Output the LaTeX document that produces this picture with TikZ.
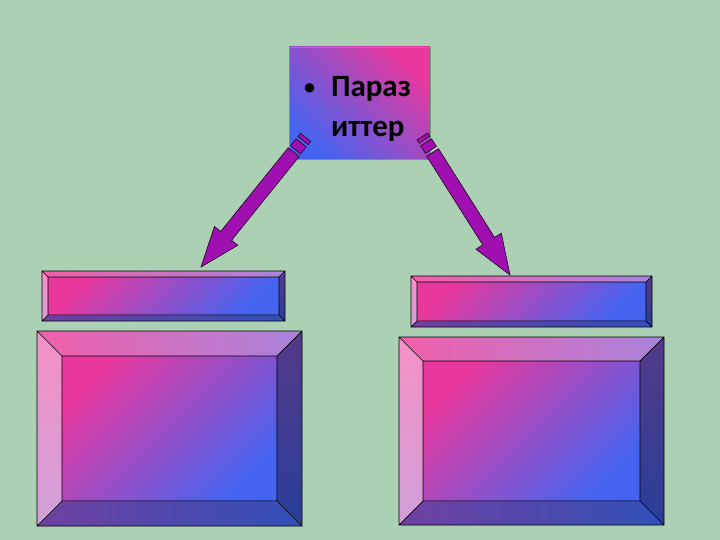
\documentclass[tikz,border=0pt]{standalone}
\usepackage{fontspec}
\setmainfont{Carlito}
\usetikzlibrary{calc}

\definecolor{slidebg}{RGB}{172,208,180}
\definecolor{facepink}{RGB}{232,56,158}
\definecolor{faceblue}{RGB}{68,100,240}
\definecolor{toppink}{RGB}{242,95,170}
\definecolor{toplilac}{RGB}{168,132,220}
\definecolor{leftpink}{RGB}{245,144,197}
\definecolor{leftlilac}{RGB}{208,160,218}
\definecolor{rightdark}{RGB}{85,58,138}
\definecolor{rightblue}{RGB}{40,62,152}
\definecolor{botpurple}{RGB}{112,64,160}
\definecolor{botblue}{RGB}{48,80,184}
\definecolor{arrowpurple}{RGB}{160,16,176}
\definecolor{boxgreen}{RGB}{80,176,96}

\tikzset{
  bevel top/.style={left color=toppink,right color=toplilac},
  bevel left/.style={top color=leftpink,bottom color=leftlilac},
  bevel right/.style={top color=rightdark,bottom color=rightblue},
  bevel bottom/.style={left color=botpurple,right color=botblue},
  bevel face/.style={top color=facepink,bottom color=faceblue,shading angle=45},
  bevel edge/.style={draw=black,line width=0.7pt},
  arrowpart/.style={fill=arrowpurple,draw=black!80!arrowpurple,line width=0.6pt,line join=miter}
}

% рамка с фаской: имя, левый верхний угол, правый нижний угол, ширина фаски
\newcommand{\bevelbox}[4]{%
  \path #2 coordinate (#1-nw) #3 coordinate (#1-se);
  \coordinate (#1-ne) at (#1-se |- #1-nw);
  \coordinate (#1-sw) at (#1-nw |- #1-se);
  \coordinate (#1-inw) at ([xshift=#4,yshift=-#4]#1-nw);
  \coordinate (#1-ine) at ([xshift=-#4,yshift=-#4]#1-ne);
  \coordinate (#1-ise) at ([xshift=-#4,yshift=#4]#1-se);
  \coordinate (#1-isw) at ([xshift=#4,yshift=#4]#1-sw);
  \shade[bevel top] (#1-nw) -- (#1-ne) -- (#1-ine) -- (#1-inw) -- cycle;
  \shade[bevel left] (#1-nw) -- (#1-inw) -- (#1-isw) -- (#1-sw) -- cycle;
  \shade[bevel right] (#1-ne) -- (#1-se) -- (#1-ise) -- (#1-ine) -- cycle;
  \shade[bevel bottom] (#1-sw) -- (#1-isw) -- (#1-ise) -- (#1-se) -- cycle;
  \shade[bevel face] (#1-inw) rectangle (#1-ise);
  \draw[bevel edge] (#1-nw) rectangle (#1-se) (#1-inw) rectangle (#1-ise)
    (#1-nw) -- (#1-inw) (#1-ne) -- (#1-ine) (#1-se) -- (#1-ise) (#1-sw) -- (#1-isw);
}

% полосатая стрелка: хвост, остриё
\newcommand{\stripedarrow}[2]{%
  \filldraw[arrowpart] ($(#1)!0pt!(#2)!6.5pt!90:(#2)$) -- ($(#1)!4pt!(#2)!6.5pt!90:(#2)$)
    -- ($(#1)!4pt!(#2)!6.5pt!-90:(#2)$) -- ($(#1)!0pt!(#2)!6.5pt!-90:(#2)$) -- cycle;
  \filldraw[arrowpart] ($(#1)!7pt!(#2)!6.5pt!90:(#2)$) -- ($(#1)!16pt!(#2)!6.5pt!90:(#2)$)
    -- ($(#1)!16pt!(#2)!6.5pt!-90:(#2)$) -- ($(#1)!7pt!(#2)!6.5pt!-90:(#2)$) -- cycle;
  \filldraw[arrowpart] ($(#1)!19pt!(#2)!7pt!90:(#2)$) -- ($(#2)!40pt!(#1)!7pt!-90:(#1)$)
    -- ($(#2)!40pt!(#1)!15pt!-90:(#1)$) -- (#2) -- ($(#2)!40pt!(#1)!15pt!90:(#1)$)
    -- ($(#2)!40pt!(#1)!7pt!90:(#1)$) -- ($(#1)!19pt!(#2)!7pt!-90:(#2)$) -- cycle;
}

\begin{document}
\begin{tikzpicture}[x=1pt,y=-1pt]
  % фон слайда
  \fill[slidebg] (0,0) rectangle (720,540);

  % верхний блок
  \node[shade,top color=facepink,bottom color=faceblue,shading angle=-45,
        draw=boxgreen,line width=0.8pt,minimum width=141pt,minimum height=112pt,inner sep=0pt]
    (parazit) at (359.5,103) {};
  \node[align=left,inner sep=0pt,text=black,font=\fontsize{31}{40}\selectfont\bfseries]
    (parazittext) at ([xshift=-2pt,yshift=-6pt]parazit.center)
    {\makebox[27pt][l]{\raisebox{2.5pt}{\fontsize{22}{22}\selectfont\textbullet}}Параз\\\hspace{27pt}иттер};

  % нижние рамки
  \bevelbox{smallL}{(42,271)}{(285,321)}{6pt}
  \bevelbox{bigL}{(37,331)}{(302,526)}{25pt}
  \bevelbox{smallR}{(411,276)}{(652,327)}{6pt}
  \bevelbox{bigR}{(399,337)}{(664,525)}{24pt}

  % стрелки
  \coordinate (tailL) at ([xshift=17pt,yshift=22pt]parazit.south west);
  \coordinate (tailR) at ([xshift=-8pt,yshift=23pt]parazit.south east);
  \coordinate (tipL) at ([xshift=159pt,yshift=4pt]smallL-nw);
  \coordinate (tipR) at ([xshift=99pt,yshift=1pt]smallR-nw);
  \stripedarrow{tailL}{tipL}
  \stripedarrow{tailR}{tipR}
\end{tikzpicture}
\end{document}
